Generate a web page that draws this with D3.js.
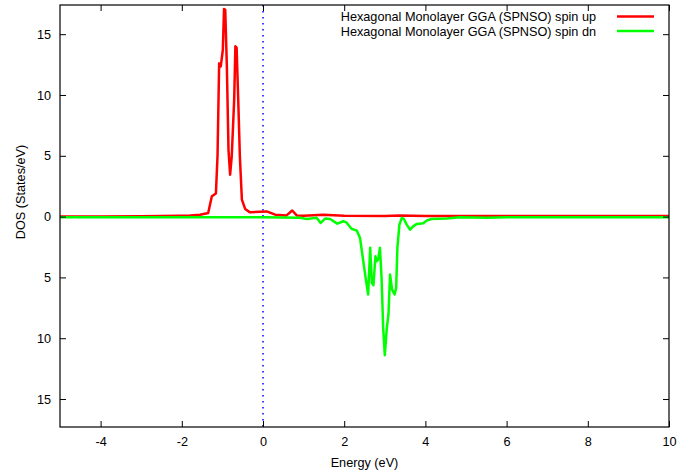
<!DOCTYPE html>
<html>
<head>
<meta charset="utf-8">
<script src="https://cdn.jsdelivr.net/npm/d3@7"></script>
<style>
  body { margin: 0; background: #fff; }
  text { font-family: "Liberation Sans", Arial, Helvetica, sans-serif; font-size: 12.7px; fill: #000; }
</style>
</head>
<body>
<div id="chart"></div>
<script>
// Spin Up DOS (energy in eV, states/eV)
const upEnergy = [-5, -4, -3, -2.5, -2.04, -1.8, -1.55, -1.35, -1.26, -1.16, -1.12, -1.08, -1.04, -0.99, -0.96, -0.93, -0.89, -0.85, -0.81, -0.77, -0.71, -0.68, -0.65, -0.61, -0.57, -0.52, -0.44, -0.32, -0.07, 0.09, 0.3, 0.58, 0.72, 0.83, 1.0, 1.48, 2, 3, 3.37, 4, 5, 6, 7, 8, 9, 10];
const upDos    = [0, 0, 0.02, 0.04, 0.08, 0.1, 0.15, 0.3, 1.67, 1.9, 5, 12.6, 12.35, 13.7, 17.07, 17.0, 12.35, 5.5, 3.45, 4.96, 9.6, 14.0, 13.9, 9.6, 4.96, 1.4, 0.63, 0.35, 0.4, 0.43, 0.16, 0.1, 0.5, 0.1, 0.08, 0.15, 0.08, 0.06, 0.1, 0.06, 0.05, 0.05, 0.05, 0.05, 0.05, 0.05];

// Spin Down DOS (plotted as negative)
const dnEnergy = [-5, -2, -1, 0, 0.91, 1.08, 1.32, 1.42, 1.53, 1.65, 1.83, 1.98, 2.06, 2.18, 2.31, 2.39, 2.47, 2.54, 2.59, 2.64, 2.68, 2.72, 2.77, 2.8, 2.84, 2.88, 2.92, 2.96, 3.0, 3.05, 3.09, 3.13, 3.18, 3.24, 3.28, 3.31, 3.36, 3.42, 3.47, 3.54, 3.62, 3.7, 3.79, 3.95, 4.03, 4.15, 4.52, 4.85, 5.5, 6, 7, 8, 9, 10];
const dnDos    = [-0.05, -0.05, -0.05, -0.05, -0.1, -0.2, -0.1, -0.52, -0.16, -0.2, -0.58, -0.38, -0.5, -1.0, -1.15, -1.75, -3.67, -5.3, -6.4, -2.57, -5.45, -5.64, -3.26, -3.67, -3.5, -2.57, -5.0, -9.15, -11.4, -9.15, -8.05, -4.77, -6.0, -6.4, -5.86, -2.57, -0.66, -0.1, -0.2, -0.66, -1.07, -0.8, -0.6, -0.55, -0.33, -0.2, -0.15, -0.05, -0.1, -0.05, -0.05, -0.05, -0.05, -0.05];

// Axis Ticks & Legend Labels
const xTicks = [-4, -2, 0, 2, 4, 6, 8, 10];
const yTicks = [-15, -10, -5, 0, 5, 10, 15];
const seriesNames = ["Hexagonal Monolayer GGA (SPNSO) spin up", "Hexagonal Monolayer GGA (SPNSO) spin dn"];
const seriesColors = ["#ff0000", "#00ff00"];

// Initialise Dimensions
const w = 697, h = 475;
const mLeft = 60, mRight = 669, mTop = 5, mBottom = 427;

const svg = d3.select("#chart").append("svg").attr("width", w).attr("height", h);

const x = d3.scaleLinear().domain([-5, 10]).range([mLeft, mRight]);
const y = d3.scaleLinear().domain([-17.3, 17.4]).range([mBottom, mTop]);

// Zero Energy Line
svg.append("line").attr("x1", x(0)).attr("x2", x(0)).attr("y1", mTop).attr("y2", mBottom)
  .attr("stroke", "#0000ff").attr("stroke-width", 1.5).attr("stroke-dasharray", "1.5,4.5");

// Series Lines
const line = d3.line().x(d => x(d[0])).y(d => y(d[1]));
const upData = upEnergy.map((e, i) => [e, upDos[i]]);
const dnData = dnEnergy.map((e, i) => [e, dnDos[i]]);
[upData, dnData].forEach((data, i) => {
  svg.append("path").datum(data).attr("d", line).attr("fill", "none")
    .attr("stroke", seriesColors[i]).attr("stroke-width", 2.5).attr("stroke-linejoin", "round");
});

// Axes (Ticks Inward, Mirrored)
svg.append("g").attr("transform", `translate(0,${mBottom})`)
  .call(d3.axisBottom(x).tickValues(xTicks).tickSizeInner(-6).tickSizeOuter(0).tickPadding(10).tickFormat(d => String(d)))
  .call(g => g.select(".domain").remove());
svg.append("g").attr("transform", `translate(0,${mTop})`)
  .call(d3.axisTop(x).tickValues(xTicks).tickSizeInner(-6).tickSizeOuter(0).tickFormat(""))
  .call(g => g.select(".domain").remove());
svg.append("g").attr("transform", `translate(${mLeft},0)`)
  .call(d3.axisLeft(y).tickValues(yTicks).tickSizeInner(-6).tickSizeOuter(0).tickPadding(9).tickFormat(d => String(Math.abs(d))))
  .call(g => g.select(".domain").remove());
svg.append("g").attr("transform", `translate(${mRight},0)`)
  .call(d3.axisRight(y).tickValues(yTicks).tickSizeInner(-6).tickSizeOuter(0).tickFormat(""))
  .call(g => g.select(".domain").remove());
svg.selectAll(".tick text").style("font-size", "12.7px").style("font-family", "Liberation Sans, Arial, sans-serif");
svg.selectAll(".tick line").attr("stroke", "#000");

// Frame
svg.append("rect").attr("x", mLeft).attr("y", mTop).attr("width", mRight - mLeft).attr("height", mBottom - mTop)
  .attr("fill", "none").attr("stroke", "#000").attr("stroke-width", 1.2);

// Axis Titles
svg.append("text").text("Energy (eV)").attr("x", (mLeft + mRight) / 2).attr("y", 467).attr("text-anchor", "middle");
svg.append("text").text("DOS (States/eV)").attr("text-anchor", "middle")
  .attr("transform", "translate(25,192) rotate(-90)");

// Legend
seriesNames.forEach((name, i) => {
  const ly = 16.5 + i * 14.5;
  svg.append("text").text(name).attr("x", 596).attr("y", ly + 4.5).attr("text-anchor", "end");
  svg.append("line").attr("x1", 617).attr("x2", 654).attr("y1", ly).attr("y2", ly)
    .attr("stroke", seriesColors[i]).attr("stroke-width", 2.5);
});
</script>
</body>
</html>
